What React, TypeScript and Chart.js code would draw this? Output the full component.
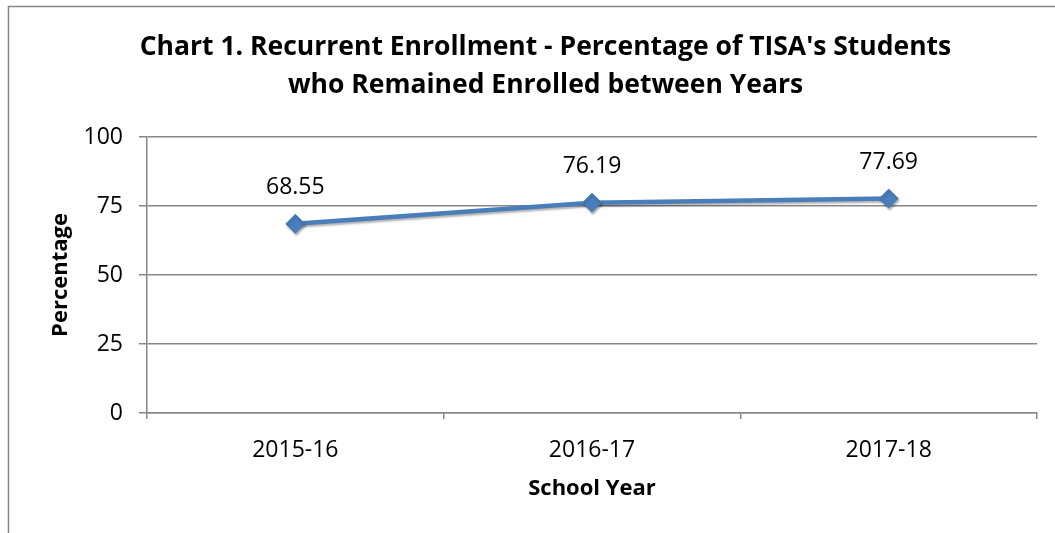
import React, { useEffect, useRef } from "react";
import { Chart, registerables } from "chart.js";

Chart.register(...registerables);

const categories = ["2015-16", "2016-17", "2017-18"];
const values = [68.55, 76.19, 77.69];
const valueLabels = ["68.55", "76.19", "77.69"];
const yTicks = [0, 25, 50, 75, 100];
const titleLines = [
  "Chart 1. Recurrent Enrollment - Percentage of TISA's Students",
  "who Remained Enrolled between Years",
];
const xTitle = "School Year";
const yTitle = "Percentage";

const FONT = "'Open Sans', 'Noto Sans', sans-serif";
const GRID = "#878787";
const BLUE = "#4A7EBB";

const framePlugin = {
  id: "frame",
  beforeDraw(chart: any) {
    const ctx = chart.ctx;
    ctx.save();
    ctx.fillStyle = "#ffffff";
    ctx.fillRect(0, 0, chart.width, chart.height);
    ctx.strokeStyle = GRID;
    ctx.lineWidth = 1.5;
    ctx.strokeRect(8.5, 6.5, 1200, 1000);
    ctx.restore();
  },
};

const shadowPlugin = {
  id: "lineShadow",
  beforeDatasetDraw(chart: any) {
    const ctx = chart.ctx;
    ctx.save();
    ctx.shadowColor = "rgba(0,0,0,0.3)";
    ctx.shadowOffsetX = 1;
    ctx.shadowOffsetY = 2;
    ctx.shadowBlur = 2;
  },
  afterDatasetDraw(chart: any) {
    chart.ctx.restore();
  },
};

const labelPlugin = {
  id: "valueLabels",
  afterDatasetsDraw(chart: any) {
    const ctx = chart.ctx;
    const meta = chart.getDatasetMeta(0);
    ctx.save();
    ctx.font = `23px ${FONT}`;
    ctx.fillStyle = "#000000";
    ctx.textAlign = "center";
    ctx.textBaseline = "middle";
    meta.data.forEach((pt: any, i: number) => {
      ctx.fillText(valueLabels[i], pt.x, pt.y - 36);
    });
    ctx.restore();
  },
};

export default function App() {
  const ref = useRef<HTMLCanvasElement | null>(null);
  useEffect(() => {
    if (!ref.current) return;
    const chart = new Chart(ref.current, {
      type: "line",
      data: {
        labels: categories,
        datasets: [
          {
            data: values,
            borderColor: BLUE,
            backgroundColor: BLUE,
            borderWidth: 4.5,
            pointStyle: "rectRot",
            pointRadius: 9.5,
            pointBorderWidth: 1,
            pointBackgroundColor: BLUE,
            pointBorderColor: BLUE,
            tension: 0,
          },
        ],
      },
      options: {
        responsive: false,
        animation: false,
        layout: { padding: { left: 54, right: 18, top: 0, bottom: 0 } },
        plugins: {
          legend: { display: false },
          tooltip: { enabled: false },
          title: {
            display: true,
            text: titleLines,
            color: "#000000",
            font: { family: FONT, size: 26.5, weight: "bold", lineHeight: "38px" },
            padding: { top: 28, bottom: 33 },
          },
        },
        scales: {
          x: {
            offset: true,
            grid: {
              offset: true,
              drawOnChartArea: false,
              drawTicks: true,
              tickLength: 6,
              color: GRID,
              lineWidth: 1.5,
            },
            border: { color: GRID, width: 1.5 },
            ticks: { color: "#000000", font: { family: FONT, size: 23 }, padding: 18 },
            title: {
              display: true,
              text: xTitle,
              color: "#000000",
              font: { family: FONT, size: 22, weight: "bold", lineHeight: 1.2 },
              padding: { top: 0, bottom: 31 },
            },
            afterFit(scale: any) {
              scale.height = 120;
            },
          },
          y: {
            min: 0,
            max: 100,
            afterBuildTicks(scale: any) {
              scale.ticks = yTicks.map((v) => ({ value: v }));
            },
            grid: { color: GRID, lineWidth: 1.5, tickLength: 8 },
            border: { color: GRID, width: 1.5 },
            ticks: { color: "#000000", font: { family: FONT, size: 23 }, padding: 16 },
            title: {
              display: true,
              text: yTitle,
              color: "#000000",
              font: { family: FONT, size: 22, weight: "bold", lineHeight: 1.2 },
              padding: { top: -6, bottom: 0 },
            },
            afterFit(scale: any) {
              scale.width = 93;
            },
          },
        },
      },
      plugins: [framePlugin, shadowPlugin, labelPlugin],
    } as any);
    return () => chart.destroy();
  }, []);
  return (
    <div style={{ position: "absolute", left: 0, top: 0, width: 1055, height: 533 }}>
      <canvas ref={ref} width={1055} height={533} style={{ display: "block" }} />
    </div>
  );
}
